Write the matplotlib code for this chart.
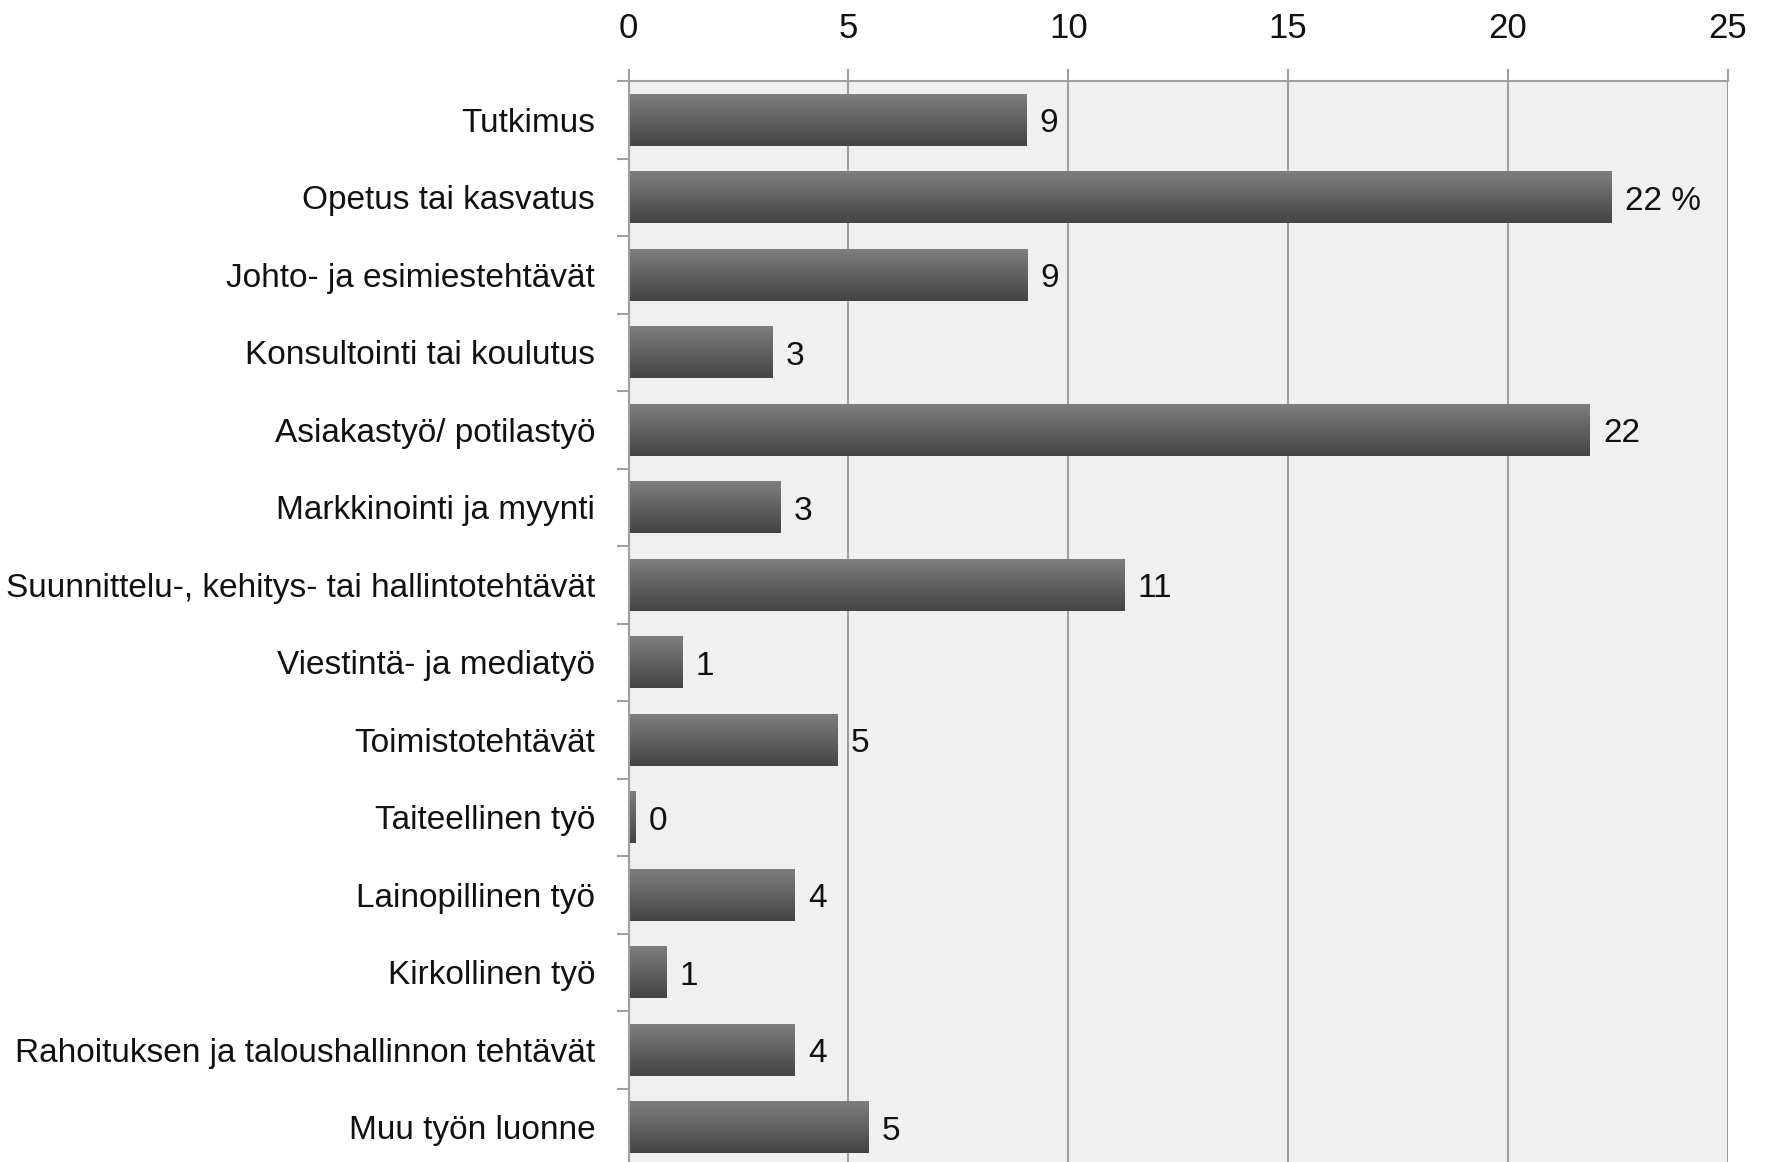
import numpy as np
import matplotlib
matplotlib.use("Agg")
import matplotlib.pyplot as plt

categories = [
    "Tutkimus",
    "Opetus tai kasvatus",
    "Johto- ja esimiestehtävät",
    "Konsultointi tai koulutus",
    "Asiakastyö/ potilastyö",
    "Markkinointi ja myynti",
    "Suunnittelu-, kehitys- tai hallintotehtävät",
    "Viestintä- ja mediatyö",
    "Toimistotehtävät",
    "Taiteellinen työ",
    "Lainopillinen työ",
    "Kirkollinen työ",
    "Rahoituksen ja taloushallinnon tehtävät",
    "Muu työn luonne",
]
values = [9.03, 22.35, 9.05, 3.26, 21.85, 3.44, 11.26, 1.21, 4.74, 0.15, 3.77, 0.85, 3.77, 5.44]
value_labels = ["9", "22 %", "9", "3", "22", "3", "11", "1", "5", "0", "4", "1", "4", "5"]
x_ticks = [0, 5, 10, 15, 20, 25]

plt.rcParams['font.family'] = ['Liberation Sans Narrow', 'Liberation Sans', 'DejaVu Sans']

W, H = 1767, 1162
fig = plt.figure(figsize=(W / 100, H / 100), dpi=100)
fig.patch.set_facecolor("white")
left, right, top, bottom = 628.5 / W, 1728 / W, 1 - 81 / H, 1 - 1166 / H
ax = fig.add_axes([left, bottom, right - left, top - bottom])
ax.set_facecolor("#f0f0f0")

grid_col = "#a0a0a0"
txt_col = "#111111"
fs = 24
h = 0.67
n = len(categories)
pos = np.arange(n)

bars = ax.barh(pos, values, height=h, color="none", edgecolor="none", zorder=3)
grad = np.linspace(0, 1, 100).reshape(-1, 1)
cmap = matplotlib.colors.LinearSegmentedColormap.from_list("g", ["#7e7e7e", "#444444"])
for b in bars:
    x0 = b.get_x()
    w = b.get_width()
    y0 = b.get_y()
    bh = b.get_height()
    ax.imshow(grad, cmap=cmap, aspect="auto", origin="upper",
              extent=(x0, x0 + w, y0 + bh, y0), zorder=3, interpolation="bilinear")

for v, lab, p in zip(values, value_labels, pos):
    ax.annotate(lab, (v, p), xytext=(10, -3), textcoords="offset points",
                ha="left", va="center", fontsize=fs, color=txt_col, zorder=4)

ax.set_xlim(0, 25)
ax.set_ylim(n - 0.5, -0.5)
ax.set_xticks(x_ticks)
ax.xaxis.tick_top()
ax.tick_params(axis="x", which="major", length=9, width=1.5, color=grid_col,
               labelsize=25, labelcolor=txt_col, pad=17)
ax.set_yticks(pos)
ax.set_yticklabels(categories)
ax.tick_params(axis="y", which="major", length=0, labelsize=fs, labelcolor=txt_col, pad=24)
ax.set_yticks(np.arange(n + 1) - 0.5, minor=True)
ax.tick_params(axis="y", which="minor", length=9, width=1.5, color=grid_col)

ax.grid(axis="x", color=grid_col, linewidth=1.5, zorder=1)
ax.set_axisbelow(True)
for s in ["right", "bottom"]:
    ax.spines[s].set_visible(False)
for s in ["left", "top"]:
    ax.spines[s].set_color(grid_col)
    ax.spines[s].set_linewidth(1.5)
    ax.spines[s].set_zorder(5)

fig.savefig("out.png", dpi=100, facecolor="white")
